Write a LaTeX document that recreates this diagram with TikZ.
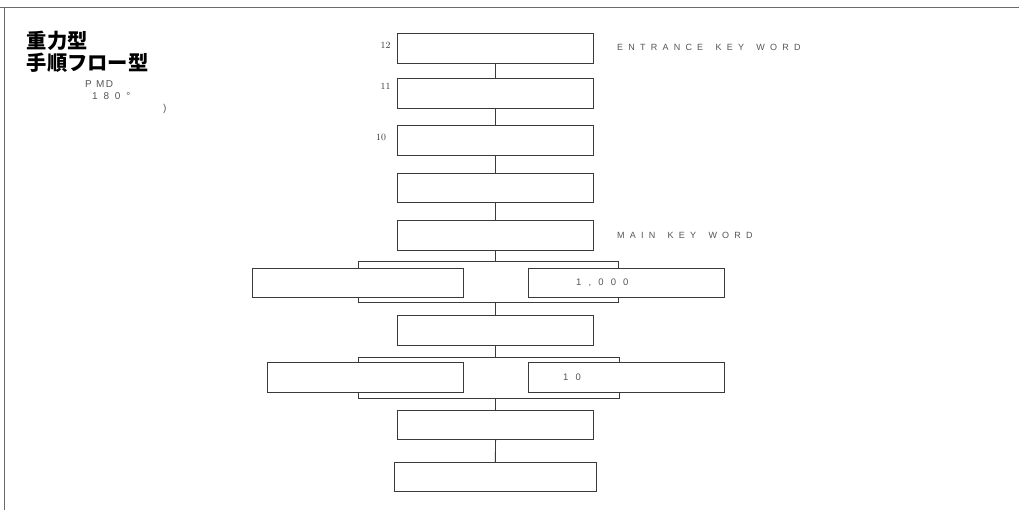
\documentclass[tikz,border=0pt]{standalone}
\usepackage{fontspec}
\setmainfont{Latin Modern Roman}
\newfontfamily\cjk{Noto Sans CJK JP}
\newfontfamily\lab{Liberation Sans}[LetterSpace=58, WordSpace=1.6]
\newfontfamily\labd{Liberation Sans}[LetterSpace=75]
\newfontfamily\labn{Liberation Sans}[LetterSpace=15]
\definecolor{linec}{HTML}{3A3A3A}
\definecolor{textc}{HTML}{555555}
\definecolor{framec}{HTML}{6A6A6A}
\begin{document}
\begin{tikzpicture}[x=1pt,y=-1pt,
  box/.style={draw=linec, line width=0.9pt, fill=white, inner sep=0pt, minimum height=29.5pt},
  conn/.style={draw=linec, line width=0.9pt},
  lbl/.style={text=textc, font=\lab\fontsize{9}{10}\selectfont, inner sep=0pt, anchor=west},
  dig/.style={text=textc, font=\labd\fontsize{9.5}{10}\selectfont, inner sep=0pt, anchor=west},
  num/.style={text=black!80, font=\fontsize{9.5}{10}\selectfont, inner sep=0pt},
  frame/.style={draw=framec, line width=0.9pt}]
\useasboundingbox (0,0) rectangle (1019,510);
% frame
\coordinate (fTL) at (4,7);
\coordinate (fTR) at (1019,7);
\coordinate (fBL) at (4,510);
\coordinate (fL0) at (0,7);
\draw[frame] (fL0) -- (fTR);
\draw[frame] (fTL) -- (fBL);
% title
\node[anchor=west, inner sep=0pt, font=\cjk\bfseries\fontsize{20.3}{21}\selectfont] (t1) at (26.5,41) {重力型};
\node[anchor=west, inner sep=0pt, font=\cjk\bfseries\fontsize{20.3}{21}\selectfont] (t2) at (26.5,62.5) {手順フロー型};
\node[anchor=west, inner sep=0pt, text=textc, font=\labn\fontsize{10}{11}\selectfont] (pmd) at (85,84) {P MD};
\node[anchor=west, inner sep=0pt, text=textc, font=\lab\fontsize{10}{11}\selectfont] (deg) at (92,96) {180°};
\node[anchor=west, inner sep=0pt, text=textc, font=\lab\fontsize{10}{11}\selectfont] (par) at (163,109) {)};
% brackets (behind boxes)
\coordinate (br1a) at (358,261.7);
\coordinate (br1b) at (618,302.3);
\coordinate (br2a) at (358.7,357.7);
\coordinate (br2b) at (619,398.3);
\draw[conn] (br1a) rectangle (br1b);
\draw[conn] (br2a) rectangle (br2b);
\coordinate (br1t) at (495.7,261.7);
\coordinate (br1u) at (495.7,302.3);
\coordinate (br2t) at (495.7,357.7);
\coordinate (br2u) at (495.7,398.3);
% boxes
\node[box, minimum width=196pt] (b12) at (495.7,48.7) {};
\node[box, minimum width=196pt] (b11) at (495.7,93.3) {};
\node[box, minimum width=196pt] (b10) at (495.7,140.7) {};
\node[box, minimum width=196pt] (b4) at (495.7,188) {};
\node[box, minimum width=196pt] (b5) at (495.7,235.7) {};
\node[box, minimum width=210.6pt] (bA) at (358,283.2) {};
\node[box, minimum width=196.3pt] (bB) at (626.2,283.2) {};
\node[box, minimum width=196pt] (b7) at (495.7,330.2) {};
\node[box, minimum width=196pt] (bC) at (365.3,377.5) {};
\node[box, minimum width=196.3pt] (bD) at (626.2,377.5) {};
\node[box, minimum width=196pt] (b9) at (495.7,425) {};
\node[box, minimum width=201.7pt] (b10b) at (495.2,477) {};
% connectors
\draw[conn] (b12) -- (b11);
\draw[conn] (b11) -- (b10);
\draw[conn] (b10) -- (b4);
\draw[conn] (b4) -- (b5);
\draw[conn] (b5.south) -- (br1t);
\draw[conn] (br1u) -- (b7.north);
\draw[conn] (b7.south) -- (br2t);
\draw[conn] (br2u) -- (b9.north);
\draw[conn] (b9) -- (b10b);
% numbers
\node[num] (n12) at (385.5,45.5) {12};
\node[num] (n11) at (385.5,86) {11};
\node[num] (n10) at (381,137) {10};
% labels
\node[lbl] (ek) at (617,47) {ENTRANCE KEY WORD};
\node[lbl] (mk) at (617,235.5) {MAIN KEY WORD};
\node[dig] (v1) at (576,282.5) {1,000};
\node[dig] (v2) at (563,377) {10};
\end{tikzpicture}
\end{document}
